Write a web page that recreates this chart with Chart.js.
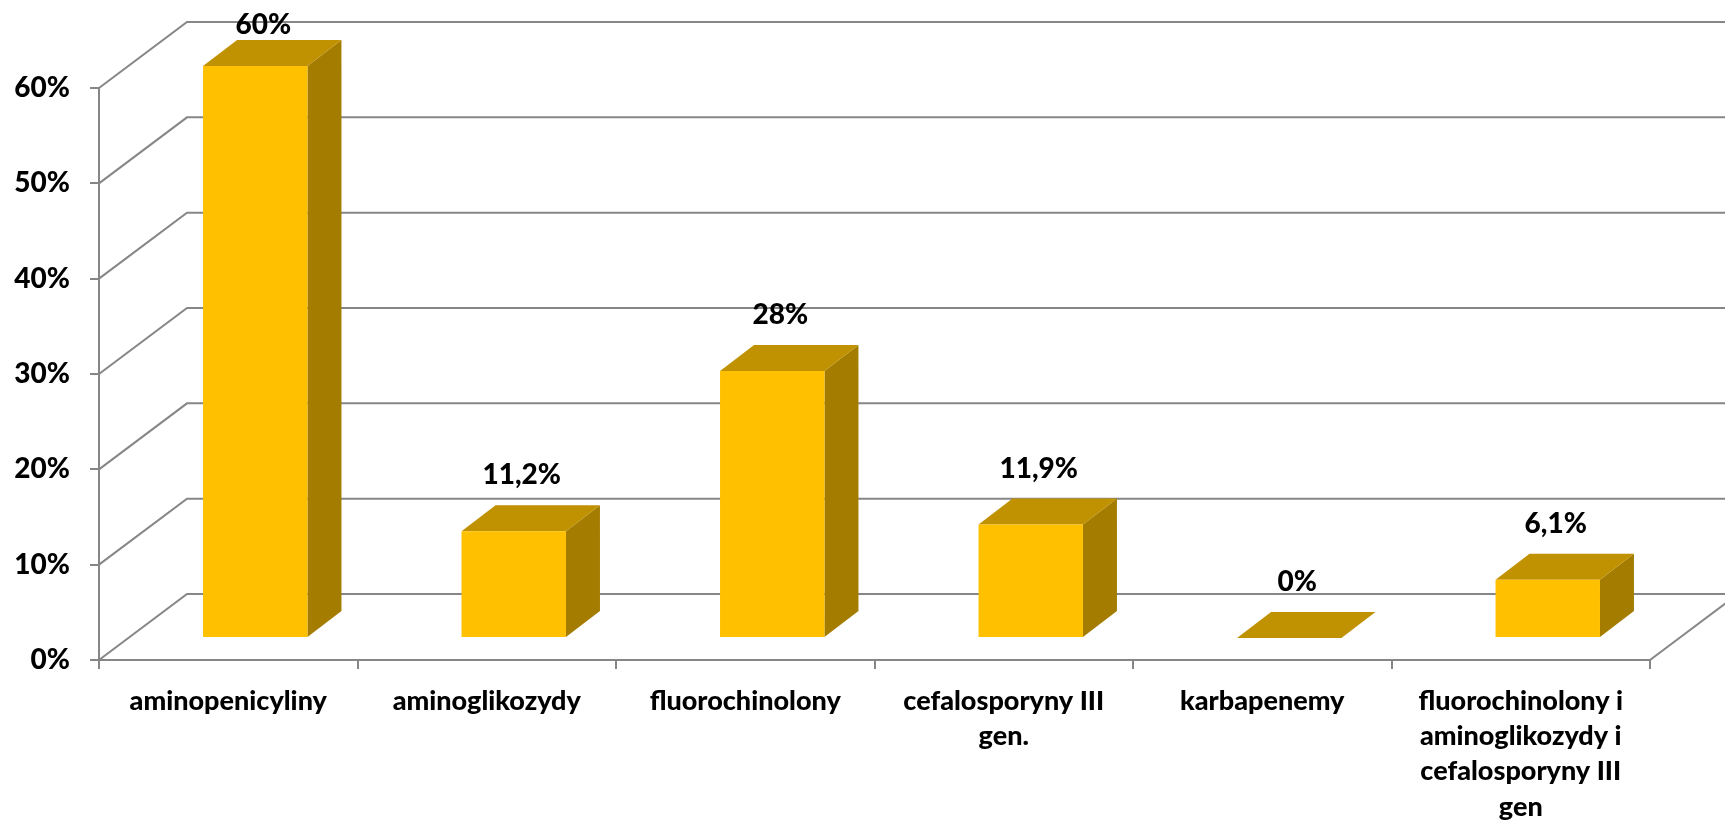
<!DOCTYPE html>
<html>
<head>
<meta charset="utf-8">
<script src="https://cdn.jsdelivr.net/npm/chart.js@4"></script>
<style>
  body { margin: 0; background: #fff; }
  #wrap { width: 1725px; height: 820px; }
</style>
</head>
<body>
<div id="wrap"><canvas id="barChart3d"></canvas></div>
<script>
// data
const categories = [
  ['aminopenicyliny'],
  ['aminoglikozydy'],
  ['fluorochinolony'],
  ['cefalosporyny III', 'gen.'],
  ['karbapenemy'],
  ['fluorochinolony i', 'aminoglikozydy i', 'cefalosporyny III', 'gen']
];
const values = [60, 11.2, 28, 11.9, 0, 6.1];
const yMax = 60;
const yStep = 10;

// look
const frontColor = '#FFC000';
const topColor = '#C09100';
const sideColor = '#A47C00';
const gridColor = '#868686';
const fontFamily = 'Lato, "Open Sans", sans-serif';
const fontWeight = '900';

// oblique 3D offsets (px)
const depth = { dx: 88, dy: -66 };     // floor / wall depth
const barShift = { dx: 27, dy: -22 };  // bar front face behind the front plane
const barDepth = { dx: 34, dy: -26 };  // bar thickness

function fmt(v) {
  return String(v).replace('.', ',') + '%';
}

const threeD = {
  id: 'threeD',
  beforeDatasetsDraw(chart) {
    const { ctx, chartArea: a, scales } = chart;
    const y = scales.y;
    ctx.save();
    ctx.strokeStyle = gridColor;
    ctx.lineWidth = 2;
    y.ticks.forEach(t => {
      const py = y.getPixelForValue(t.value);
      ctx.beginPath();
      ctx.moveTo(a.left, py);
      ctx.lineTo(a.left + depth.dx, py + depth.dy);
      ctx.lineTo(a.right + depth.dx, py + depth.dy);
      ctx.stroke();
    });
    ctx.beginPath();
    ctx.moveTo(a.right, a.bottom);
    ctx.lineTo(a.right + depth.dx, a.bottom + depth.dy);
    ctx.stroke();
    ctx.restore();
  },
  beforeDatasetDraw(chart, args) {
    const ctx = chart.ctx;
    args.meta.data.forEach(el => {
      const l = el.x - el.width / 2 + barShift.dx;
      const r = el.x + el.width / 2 + barShift.dx;
      const top = el.y + barShift.dy;
      const bottom = el.base + barShift.dy;
      ctx.fillStyle = sideColor;
      ctx.beginPath();
      ctx.moveTo(r, top);
      ctx.lineTo(r + barDepth.dx, top + barDepth.dy);
      ctx.lineTo(r + barDepth.dx, bottom + barDepth.dy);
      ctx.lineTo(r, bottom);
      ctx.closePath();
      ctx.fill();
      ctx.fillStyle = topColor;
      ctx.beginPath();
      ctx.moveTo(l, top);
      ctx.lineTo(r, top);
      ctx.lineTo(r + barDepth.dx, top + barDepth.dy);
      ctx.lineTo(l + barDepth.dx, top + barDepth.dy);
      ctx.closePath();
      ctx.fill();
    });
    ctx.save();
    ctx.translate(barShift.dx, barShift.dy);
  },
  afterDatasetDraw(chart) {
    chart.ctx.restore();
  },
  afterDatasetsDraw(chart) {
    const ctx = chart.ctx;
    const meta = chart.getDatasetMeta(0);
    ctx.save();
    ctx.fillStyle = '#000';
    ctx.font = fontWeight + ' 28px ' + fontFamily;
    ctx.textAlign = 'center';
    ctx.textBaseline = 'middle';
    meta.data.forEach((el, i) => {
      const x = el.x + barShift.dx + 8;
      const y = Math.max(el.y + barShift.dy + barDepth.dy - 30, 25);
      ctx.fillText(fmt(values[i]), x, y);
    });
    ctx.restore();
  }
};

new Chart(document.getElementById('barChart3d'), {
  type: 'bar',
  data: {
    labels: categories,
    datasets: [{
      data: values,
      backgroundColor: frontColor,
      borderWidth: 0,
      categoryPercentage: 1,
      barPercentage: 0.404,
      clip: false
    }]
  },
  options: {
    responsive: true,
    maintainAspectRatio: false,
    animation: false,
    layout: { padding: { top: 88, right: 75, left: 0, bottom: 0 } },
    plugins: {
      legend: { display: false },
      tooltip: { enabled: false }
    },
    scales: {
      x: {
        grid: { drawOnChartArea: false, color: gridColor, lineWidth: 2, tickLength: 9 },
        border: { color: gridColor, width: 2 },
        ticks: {
          color: '#000',
          font: { family: fontFamily, size: 27, weight: fontWeight, lineHeight: 1.3 },
          padding: 15,
          maxRotation: 0,
          autoSkip: false
        },
        afterFit(scale) { scale.height = 160; }
      },
      y: {
        min: 0,
        max: yMax,
        grid: { drawOnChartArea: false, color: gridColor, lineWidth: 2, tickLength: 9 },
        border: { color: gridColor, width: 2 },
        ticks: {
          stepSize: yStep,
          color: '#000',
          font: { family: fontFamily, size: 28, weight: fontWeight },
          padding: 20,
          callback: v => v + '%'
        },
        afterFit(scale) { scale.width = 99; }
      }
    }
  },
  plugins: [threeD]
});
</script>
</body>
</html>
